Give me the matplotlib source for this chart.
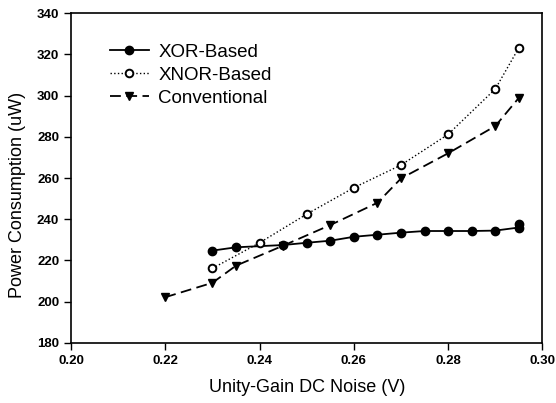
import matplotlib.pyplot as plt

plt.rcParams['font.family'] = ['Liberation Sans', 'DejaVu Sans']

# XOR-Based
xor_x = [0.23, 0.235, 0.245, 0.25, 0.255, 0.26, 0.265, 0.27, 0.275, 0.28, 0.285, 0.29, 0.295, 0.295]
xor_y = [224.8, 226.4, 227.5, 228.6, 229.6, 231.5, 232.5, 233.5, 234.3, 234.3, 234.3, 234.5, 236.0, 237.5]

# XNOR-Based
xnor_x = [0.23, 0.24, 0.25, 0.26, 0.27, 0.28, 0.29, 0.295]
xnor_y = [216.2, 228.6, 242.5, 255.3, 266.3, 281.2, 303.2, 323.2]

# Conventional
conv_x = [0.22, 0.23, 0.235, 0.245, 0.255, 0.265, 0.27, 0.28, 0.29, 0.295]
conv_y = [202.2, 209.2, 217.5, 227.2, 237.2, 248.0, 259.8, 272.0, 285.2, 298.9]

fig = plt.figure(figsize=(5.56, 4.03), dpi=100)
ax = fig.add_axes([0.1277, 0.1489, 0.848, 0.8188])

ax.plot(conv_x, conv_y, color='black', linestyle=(0, (6, 3)), linewidth=1.3,
        marker='v', markersize=6, label='Conventional', zorder=2)
ax.plot(xor_x, xor_y, color='black', linestyle='-', linewidth=1.3,
        marker='o', markersize=6, label='XOR-Based', zorder=3)
ax.plot(xnor_x, xnor_y, color='black', linestyle=':', linewidth=1.0,
        marker='o', markersize=5.5, markerfacecolor='white', markeredgewidth=1.4,
        label='XNOR-Based', zorder=4)

ax.set_xlim(0.20, 0.30)
ax.set_ylim(180, 340)
ax.set_xticks([0.20, 0.22, 0.24, 0.26, 0.28, 0.30])
ax.set_xticklabels(['0.20', '0.22', '0.24', '0.26', '0.28', '0.30'])
ax.set_yticks(range(180, 341, 20))
ax.tick_params(direction='out', length=5, width=1, labelsize=9.5)
for lbl in ax.get_xticklabels() + ax.get_yticklabels():
    lbl.set_fontweight('bold')
for s in ax.spines.values():
    s.set_linewidth(1.2)

ax.set_xlabel('Unity-Gain DC Noise (V)', fontsize=13, labelpad=9)
ax.set_ylabel('Power Consumption (uW)', fontsize=13)
ax.yaxis.set_label_coords(-0.095, 0.45)

handles, labels = ax.get_legend_handles_labels()
order = [1, 2, 0]
ax.legend([handles[i] for i in order], [labels[i] for i in order],
          loc='upper left', bbox_to_anchor=(0.066, 0.93), frameon=False,
          fontsize=13.5, handlelength=2.1, labelspacing=0.32, handletextpad=0.5,
          borderaxespad=0)

fig.savefig('out.png', dpi=100)
